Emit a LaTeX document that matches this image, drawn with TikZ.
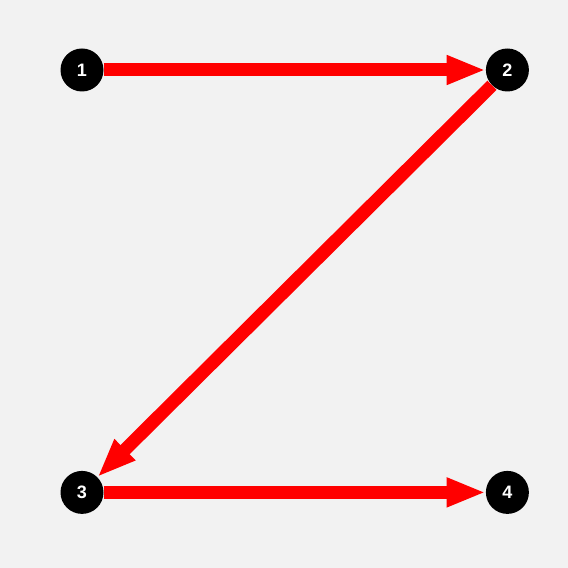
\documentclass[tikz,border=0pt]{standalone}
\usepackage{fontspec}
\usepackage{xcolor}
\usepackage{tikz}
\usetikzlibrary{arrows.meta,positioning}
\setmainfont{Liberation Sans}
\definecolor{bggray}{HTML}{F2F2F2}
\definecolor{zred}{HTML}{FF0000}

\begin{document}
\begin{tikzpicture}[
  x=1pt, y=1pt,
  dot/.style={circle, fill=black, minimum size=43pt, inner sep=0pt, text=white, font=\fontsize{18}{18}\selectfont\bfseries},
  arr/.style={-{Triangle[length=39pt,width=27pt]}, line width=13pt, draw=zred}
]
\fill[bggray] (0,0) rectangle (568,568);
\node[dot] (n1) at (82,498) {1};
\node[dot, right=382pt of n1] (n2) {2};
\node[dot, below=379pt of n1] (n3) {3};
\node[dot, right=382pt of n3] (n4) {4};
\draw[arr] (n1) -- (n2);
\draw[arr] (n2) -- (n3);
\draw[arr] (n3) -- (n4);
\end{tikzpicture}
\end{document}
